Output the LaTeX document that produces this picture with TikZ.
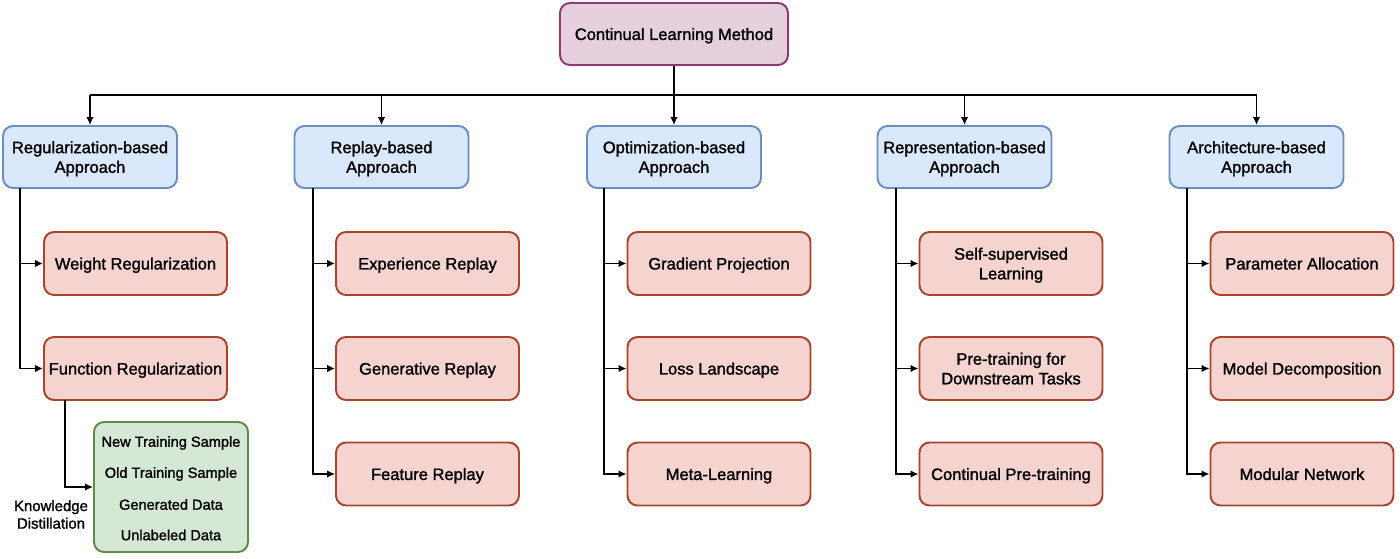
\documentclass[tikz,border=0pt]{standalone}
\usepackage{fontspec}
\setmainfont{Liberation Sans}[FakeBold=1.4]
\usetikzlibrary{arrows.meta}
\definecolor{rootfill}{HTML}{E6D0DE}
\definecolor{rootdraw}{HTML}{8E3A72}
\definecolor{bluefill}{HTML}{DAE8FC}
\definecolor{bluedraw}{HTML}{6C8EBF}
\definecolor{redfill}{HTML}{F5D3CF}
\definecolor{reddraw}{HTML}{A8432E}
\definecolor{greenfill}{HTML}{D5E8D4}
\definecolor{greendraw}{HTML}{5E8C48}
\tikzset{
  box/.style={rounded corners=0.2cm, line width=1.1pt, align=center, inner sep=0pt,
    text depth=0pt, font=\fontsize{9.4}{11.2}\selectfont},
  rootbox/.style={box, fill=rootfill, draw=rootdraw, minimum width=4.56cm, minimum height=1.24cm},
  bluebox/.style={box, fill=bluefill, draw=bluedraw, minimum width=3.48cm, minimum height=1.24cm},
  redbox/.style={box, fill=redfill, draw=reddraw, minimum width=3.66cm, minimum height=1.26cm},
  greenbox/.style={box, fill=greenfill, draw=greendraw, minimum width=3.08cm, minimum height=2.6cm},
  conn/.style={line width=0.9pt, draw=black},
  arr/.style={conn, -{Latex[length=0.16cm,width=0.15cm]}},
  glbl/.style={font=\fontsize{8.3}{10}\selectfont, align=center, inner sep=0pt},
  klbl/.style={font=\fontsize{8.5}{10}\selectfont, align=center, inner sep=0pt}
}
\begin{document}
\begin{tikzpicture}[x=0.02cm, y=-0.02cm]
\useasboundingbox (0,0) rectangle (1400,558);
\node[rootbox] (root) at (674,34) {Continual Learning Method};
% approaches
\node[bluebox] (a1) at (90,157) {Regularization-based\\Approach};
\node[bluebox] (a2) at (381.5,157) {Replay-based\\Approach};
\node[bluebox] (a3) at (674,157) {Optimization-based\\Approach};
\node[bluebox] (a4) at (964.5,157) {Representation-based\\Approach};
\node[bluebox] (a5) at (1256.5,157) {Architecture-based\\Approach};
% bus
\coordinate (b1) at (90,95);
\coordinate (b2) at (381.5,95);
\coordinate (b4) at (964.5,95);
\coordinate (b5) at (1256.5,95);
\draw[conn] (b1) -- (b5);
\draw[arr] (root.south) -- (a3.north);
\draw[arr] (b1) -- (a1.north);
\draw[arr] (b2) -- (a2.north);
\draw[arr] (b4) -- (a4.north);
\draw[arr] (b5) -- (a5.north);
% col 1
\node[redbox] (r11) at (135.5,263.5) {Weight Regularization};
\node[redbox] (r12) at (135.5,368.5) {Function Regularization};
\coordinate (t1) at (20,188);
\draw[arr] (t1) |- (r11.west);
\draw[arr] (t1) |- (r12.west);
\node[greenbox] (g) at (171,487) {};
\node[glbl] (g1) at (171,443) {New Training Sample};
\node[glbl] (g2) at (171,474) {Old Training Sample};
\node[glbl] (g3) at (171,504.5) {Generated Data};
\node[glbl] (g4) at (171,535) {Unlabeled Data};
\coordinate (k1) at (65,400);
\draw[arr] (k1) |- (g.west);
\node[klbl] (kd) at (51,514.5) {Knowledge\\Distillation};
% col 2
\node[redbox] (r21) at (427.5,263.5) {Experience Replay};
\node[redbox] (r22) at (427.5,368.5) {Generative Replay};
\node[redbox] (r23) at (427.5,474) {Feature Replay};
\coordinate (t2) at (313,188);
\draw[arr] (t2) |- (r21.west);
\draw[arr] (t2) |- (r22.west);
\draw[arr] (t2) |- (r23.west);
% col 3
\node[redbox] (r31) at (719,263.5) {Gradient Projection};
\node[redbox] (r32) at (719,368.5) {Loss Landscape};
\node[redbox] (r33) at (719,474) {Meta-Learning};
\coordinate (t3) at (604,188);
\draw[arr] (t3) |- (r31.west);
\draw[arr] (t3) |- (r32.west);
\draw[arr] (t3) |- (r33.west);
% col 4
\node[redbox] (r41) at (1011,263.5) {Self-supervised\\Learning};
\node[redbox] (r42) at (1011,368.5) {Pre-training for\\Downstream Tasks};
\node[redbox] (r43) at (1011,474) {Continual Pre-training};
\coordinate (t4) at (896,188);
\draw[arr] (t4) |- (r41.west);
\draw[arr] (t4) |- (r42.west);
\draw[arr] (t4) |- (r43.west);
% col 5
\node[redbox] (r51) at (1302,263.5) {Parameter Allocation};
\node[redbox] (r52) at (1302,368.5) {Model Decomposition};
\node[redbox] (r53) at (1302,474) {Modular Network};
\coordinate (t5) at (1187,188);
\draw[arr] (t5) |- (r51.west);
\draw[arr] (t5) |- (r52.west);
\draw[arr] (t5) |- (r53.west);
\end{tikzpicture}
\end{document}
